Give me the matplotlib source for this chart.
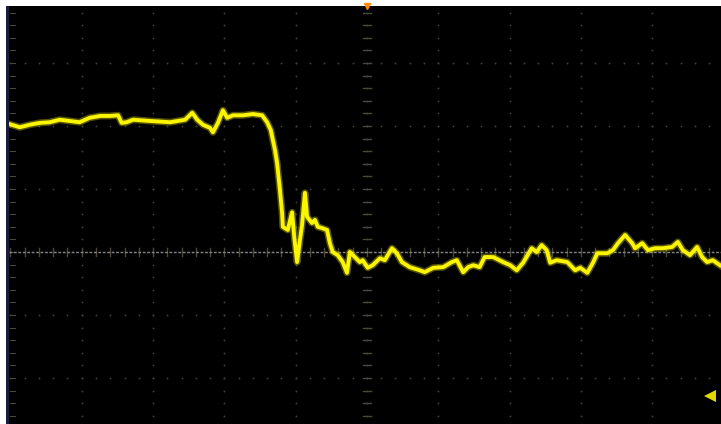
import numpy as np
import matplotlib.pyplot as plt
from matplotlib.patches import Rectangle

# Channel 1 trace, in screen divisions (time div, vertical div)
t_div = [-5.01, -4.87, -4.73, -4.59, -4.45, -4.31, -4.17, -4.03, -3.89, -3.74,
         -3.60, -3.49, -3.44, -3.37, -3.28, -3.04, -2.76, -2.55, -2.45, -2.38,
         -2.30, -2.20, -2.16, -2.09, -2.02, -1.96, -1.88, -1.74, -1.60, -1.47,
         -1.40, -1.35, -1.29, -1.26, -1.22, -1.19, -1.18, -1.11, -1.05, -1.02,
         -0.98, -0.94, -0.91, -0.87, -0.84, -0.77, -0.73, -0.69, -0.63, -0.56,
         -0.52, -0.48, -0.41, -0.34, -0.28, -0.24, -0.17, -0.10, -0.06, 0.01,
         0.08, 0.18, 0.25, 0.35, 0.42, 0.49, 0.60, 0.74, 0.81, 0.93,
         1.07, 1.19, 1.26, 1.35, 1.42, 1.49, 1.58, 1.65, 1.77, 1.91,
         2.01, 2.10, 2.19, 2.31, 2.38, 2.45, 2.52, 2.57, 2.66, 2.81,
         2.92, 2.99, 3.09, 3.17, 3.23, 3.37, 3.45, 3.52, 3.62, 3.72,
         3.76, 3.86, 3.94, 4.04, 4.15, 4.28, 4.36, 4.43, 4.53, 4.63,
         4.70, 4.77, 4.85, 4.95]
v_div = [2.03, 1.98, 2.02, 2.05, 2.06, 2.10, 2.08, 2.06, 2.13, 2.16,
         2.16, 2.17, 2.05, 2.06, 2.10, 2.08, 2.06, 2.10, 2.21, 2.10,
         2.02, 1.97, 1.90, 2.05, 2.25, 2.13, 2.17, 2.17, 2.19, 2.17,
         2.06, 1.94, 1.62, 1.41, 0.98, 0.62, 0.40, 0.35, 0.63, 0.24,
         -0.16, 0.19, 0.43, 0.94, 0.56, 0.46, 0.51, 0.40, 0.38, 0.35,
         0.14, 0.00, -0.05, -0.16, -0.33, 0.00, -0.08, -0.16, -0.13, -0.25,
         -0.21, -0.10, -0.13, 0.06, -0.02, -0.16, -0.24, -0.29, -0.32, -0.25,
         -0.24, -0.16, -0.13, -0.32, -0.24, -0.21, -0.24, -0.08, -0.08, -0.16,
         -0.21, -0.29, -0.17, 0.06, 0.00, 0.11, 0.03, -0.17, -0.13, -0.16,
         -0.29, -0.25, -0.33, -0.17, -0.02, -0.02, 0.03, 0.14, 0.27, 0.14,
         0.06, 0.14, 0.03, 0.06, 0.06, 0.08, 0.16, 0.03, -0.05, 0.08,
         -0.08, -0.16, -0.13, -0.21]

ground_level = 0.0
level_marker = (4.81, -2.29)

fig = plt.figure(figsize=(7.21, 4.24), dpi=100, facecolor='white')
ax = fig.add_axes([9 / 721, 0, 712 / 721, 418 / 424])
ax.set_facecolor('black')
ax.set_xlim(-5.02, 4.965)
ax.set_ylim(-2.73, 3.905)
ax.set_xticks([])
ax.set_yticks([])
for s in ax.spines.values():
    s.set_visible(False)

# dark bezel strip on the left
fig.add_artist(Rectangle((6 / 721, 0), 3 / 721, 418 / 424, transform=fig.transFigure,
                         color='#1c1c3a', lw=0))

grid_col = '#3e3e34'
ys = np.arange(-2.6, 3.9, 0.2)
xs = np.arange(-5.0, 5.0, 0.2)
# dotted graticule
for gx in range(-4, 5):
    ax.scatter(np.full_like(ys, gx), ys, s=1.8, color=grid_col, lw=0, zorder=1)
for gy in range(-2, 4):
    if gy == 0:
        continue
    ax.scatter(xs, np.full_like(xs, gy), s=1.8, color=grid_col, lw=0, zorder=1)

# center cross minor ticks + left edge ticks
tick_col = '#4a483a'
for yy in ys:
    ax.plot([-0.06, 0.06], [yy, yy], color=tick_col, lw=1.0, zorder=1)
    ax.plot([-5.0, -4.94], [yy, yy], color=tick_col, lw=0.8, zorder=1)
for xx in xs:
    ax.plot([xx, xx], [-0.07, 0.07], color=tick_col, lw=1.0, zorder=1)

# ground reference trace
ax.axhline(ground_level, color='#86868a', lw=1.0, ls=(0, (2, 1.2)), zorder=2)

# signal trace
ax.plot(t_div, v_div, color='#f2ee00', lw=5.0, alpha=0.35, zorder=3,
        solid_joinstyle='round')
ax.plot(t_div, v_div, color='#fbf500', lw=2.8, zorder=4, solid_joinstyle='round')

# trigger position and level markers
ax.plot(0, 3.905, marker='v', color='#ff8c00', ms=5, clip_on=False, zorder=5)
ax.plot(*level_marker, marker='<', color='#e0d800', ms=8, mew=0, zorder=5)

fig.savefig('out.png', dpi=100, facecolor='white')
